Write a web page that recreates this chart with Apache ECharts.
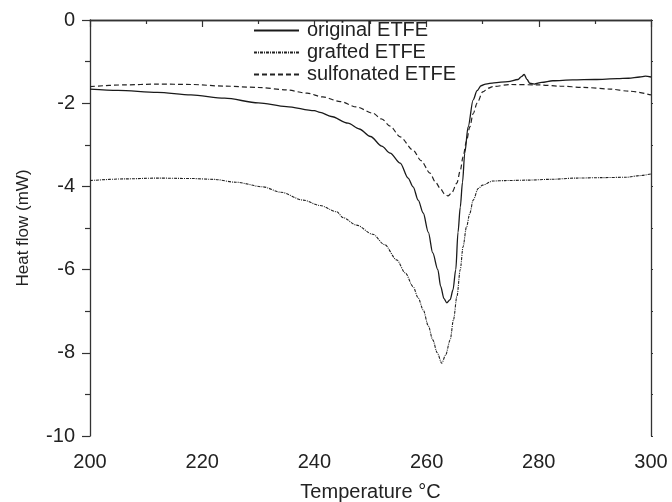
<!DOCTYPE html>
<html>
<head>
<meta charset="utf-8">
<script src="https://cdn.jsdelivr.net/npm/echarts@6/dist/echarts.min.js"></script>
<style>html,body{margin:0;padding:0;background:#fff}#c{width:672px;height:502px}</style>
</head>
<body>
<div id="c"></div>
<script>
const seriesNames = ['original ETFE', 'grafted ETFE', 'sulfonated ETFE'];
const xTicks = [200, 220, 240, 260, 280, 300];
const yTicks = [0, -2, -4, -6, -8, -10];

const origT = [200,205,212,218,224,230,235,240,241,243,246,248,250,252,253.5,255.3,256.7,257.6,258.5,259.4,260.3,261.1,262,262.5,263.1,263.6,264.2,264.7,265.2,265.6,266,266.4,266.8,267.4,268.3,269,269.7,270.5,272,274.5,276.3,276.9,277.4,277.9,278.4,279.2,280.5,282.5,286,290,294,296,298,299,300];
const origV = [-1.66,-1.69,-1.74,-1.80,-1.88,-1.99,-2.08,-2.18,-2.22,-2.32,-2.48,-2.62,-2.80,-3.03,-3.20,-3.44,-3.80,-4.01,-4.33,-4.64,-5.10,-5.60,-6.00,-6.40,-6.70,-6.80,-6.72,-6.49,-6.00,-5.10,-4.50,-3.90,-3.20,-2.57,-1.92,-1.70,-1.58,-1.54,-1.51,-1.48,-1.43,-1.36,-1.31,-1.43,-1.52,-1.54,-1.50,-1.46,-1.44,-1.43,-1.41,-1.40,-1.37,-1.35,-1.37];

const graftT = [200,206,212,218,222,226,230.8,234,238,241,244,245.1,247.5,250.4,252.5,254.7,256.2,257.6,258.5,259.4,260.3,261.1,261.9,262.7,263.4,264.2,264.8,265.4,266,266.5,267.1,267.7,268.3,269.2,270,271.8,274,277.9,282,286.8,291,295.7,298,300];
const graftV = [-3.86,-3.82,-3.80,-3.81,-3.83,-3.90,-4.01,-4.14,-4.33,-4.46,-4.61,-4.75,-4.93,-5.15,-5.40,-5.77,-6.08,-6.41,-6.68,-6.97,-7.35,-7.69,-8.00,-8.25,-8.05,-7.69,-7.20,-6.65,-6.00,-5.45,-4.98,-4.65,-4.33,-4.05,-3.97,-3.87,-3.86,-3.85,-3.83,-3.80,-3.79,-3.78,-3.74,-3.70];

const sulfT = [200,206,212,218,224,230,235,238.7,241.5,244.6,247.5,250.4,252,253.5,255.3,257.6,259,260.6,261.6,262.4,263.2,263.8,264.5,265.4,266,266.5,267.1,267.7,268.3,269,270,271,271.8,275,280,283.8,288,292.7,296,300];
const sulfV = [-1.60,-1.56,-1.54,-1.55,-1.59,-1.62,-1.68,-1.76,-1.85,-1.96,-2.09,-2.24,-2.38,-2.55,-2.81,-3.13,-3.38,-3.68,-3.90,-4.04,-4.18,-4.23,-4.15,-3.92,-3.62,-3.29,-2.92,-2.57,-2.25,-2.00,-1.73,-1.64,-1.60,-1.55,-1.56,-1.59,-1.62,-1.66,-1.71,-1.80];

const zip = (a, b) => a.map((v, i) => [v, b[i]]);
const font = '"Liberation Sans", Arial, Helvetica, sans-serif';
const axCol = '#333';

const chart = echarts.init(document.getElementById('c'), null, {renderer: 'canvas'});
const baseAxisLine = {show: true, lineStyle: {color: axCol, width: 1.3}};
chart.setOption({
  animation: false,
  backgroundColor: '#fff',
  grid: {left: 90, right: 21, top: 20, bottom: 66, containLabel: false, outerBoundsMode: 'none'},
  legend: {
    orient: 'vertical', left: 253, top: 20, padding: 0,
    itemWidth: 45, itemHeight: 14, itemGap: 1,
    itemStyle: {opacity: 0},
    textStyle: {fontFamily: font, fontSize: 20, color: '#222', lineHeight: 21, padding: [0, 0, 0, 3]},
    data: seriesNames
  },
  xAxis: [{
    type: 'value', min: xTicks[0], max: xTicks[xTicks.length - 1], interval: 20,
    name: 'Temperature \u00b0C', nameLocation: 'middle', nameGap: 46,
    nameTextStyle: {fontFamily: font, fontSize: 20, color: '#222'},
    axisLine: baseAxisLine,
    axisTick: {show: true, inside: false, length: 7, lineStyle: {color: axCol, width: 1.2}},
    minorTick: {show: true, splitNumber: 2, length: 4, lineStyle: {color: axCol, width: 1.2}},
    axisLabel: {fontFamily: font, fontSize: 20, color: '#222', margin: 16},
    splitLine: {show: false}
  }, {
    type: 'value', position: 'top', min: 200, max: 300, interval: 20,
    axisLine: baseAxisLine,
    axisTick: {show: true, inside: true, length: 3, lineStyle: {color: axCol}},
    minorTick: {show: true, splitNumber: 2, length: 2, lineStyle: {color: axCol}},
    axisLabel: {show: false}, splitLine: {show: false}
  }],
  yAxis: [{
    type: 'value', min: yTicks[yTicks.length - 1], max: yTicks[0], interval: 2,
    name: 'Heat flow (mW)', nameLocation: 'middle', nameGap: 58, nameRotate: 90,
    nameTextStyle: {fontFamily: font, fontSize: 17, color: '#222'},
    axisLine: baseAxisLine,
    axisTick: {show: true, inside: false, length: 8, lineStyle: {color: axCol, width: 1.2}},
    minorTick: {show: true, splitNumber: 2, length: 5, lineStyle: {color: axCol, width: 1.2}},
    axisLabel: {fontFamily: font, fontSize: 20, color: '#222', margin: 15},
    splitLine: {show: false}
  }, {
    type: 'value', position: 'right', min: -10, max: 0, interval: 2,
    axisLine: baseAxisLine,
    axisTick: {show: true, inside: false, length: 2, lineStyle: {color: axCol}},
    minorTick: {show: true, splitNumber: 2, length: 2, lineStyle: {color: axCol}},
    axisLabel: {show: false}, splitLine: {show: false}
  }],
  series: [{
    name: seriesNames[0], type: 'line', data: zip(origT, origV),
    symbol: 'none', smooth: 0.3, smoothMonotone: 'x',
    lineStyle: {color: '#1a1a1a', width: 1.3, type: 'solid'},
    itemStyle: {color: '#1a1a1a'}
  }, {
    name: seriesNames[1], type: 'line', data: zip(graftT, graftV),
    symbol: 'none', smooth: 0.3, smoothMonotone: 'x',
    lineStyle: {color: '#222', width: 1.1, type: [3, 1, 1, 1]},
    itemStyle: {color: '#222'}
  }, {
    name: seriesNames[2], type: 'line', data: zip(sulfT, sulfV),
    symbol: 'none', smooth: 0.3, smoothMonotone: 'x',
    lineStyle: {color: '#222', width: 1.2, type: [5, 3]},
    itemStyle: {color: '#222'}
  }]
});
</script>
</body>
</html>
